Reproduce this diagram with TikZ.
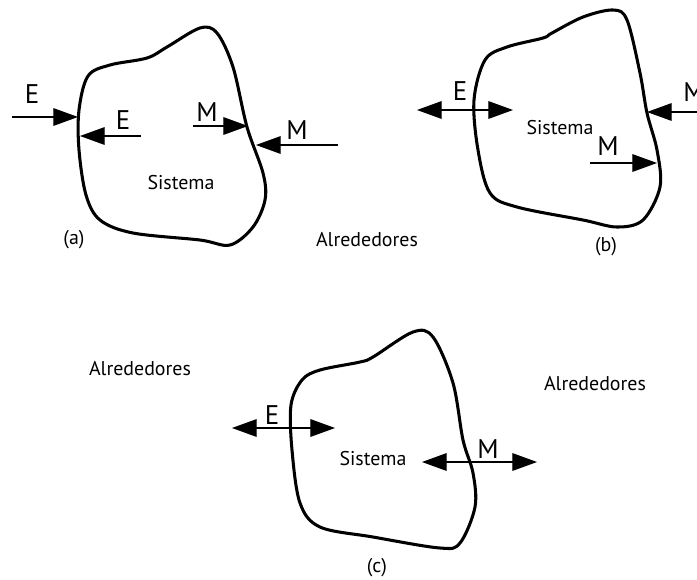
\documentclass[tikz,border=0pt]{standalone}
\usepackage{fontspec}
\setmainfont{PT Sans}
\usetikzlibrary{arrows.meta}

\tikzset{
  borde/.style={line width=2.6pt, line join=round},
  flecha/.style={line width=1pt, -{Triangle[length=21pt,width=15pt]}},
  dobleflecha/.style={line width=1pt, {Triangle[length=21pt,width=15pt]}-{Triangle[length=21pt,width=15pt]}},
  etiq/.style={font=\fontsize{23}{23}\selectfont, inner sep=0pt},
  texto/.style={font=\fontsize{17}{17}\selectfont, inner sep=0pt},
}

\begin{document}
\begin{tikzpicture}[x=0.03cm,y=-0.03cm]
		\useasboundingbox (0,0) rectangle (697,579);
		% sistema (a)
		\draw[borde] plot[smooth cycle, tension=0.55] coordinates {(88,76) (110,65) (147,58) (167,47) (200,28) (217,33) (233,67) (247,127) (263,173) (265,200) (253,227) (230,245) (200,240) (133,233) (100,220) (86,195) (79,150) (79,110)};
		\node[texto] (sisA) at (181,183) {Sistema};
		\node[texto] (etA) at (74,240) {(a)};
		\coordinate (aE1s) at (12,117);   \coordinate (aE1t) at (78,117);
		\coordinate (aE2s) at (141,136);  \coordinate (aE2t) at (80,136);
		\coordinate (aM1s) at (193,126);  \coordinate (aM1t) at (248,126);
		\coordinate (aM2s) at (338,145);  \coordinate (aM2t) at (256,145);
		\draw[flecha] (aE1s) -- (aE1t);
		\draw[flecha] (aE2s) -- (aE2t);
		\draw[flecha] (aM1s) -- (aM1t);
		\draw[flecha] (aM2s) -- (aM2t);
		\node[etiq] (aE1) at (32,94) {E};
		\node[etiq] (aE2) at (123,120) {E};
		\node[etiq] (aM1) at (207,112) {M};
		\node[etiq] (aM2) at (297,130) {M};
		% sistema (b)
		\draw[borde] plot[smooth cycle, tension=0.55] coordinates {(485,60) (507,47) (543,38) (552,33) (583,17) (613,10) (627,20) (640,73) (647,113) (657,150) (660,187) (643,220) (617,227) (583,220) (517,207) (490,193) (478,150) (474,100)};
		\node[texto] (sisB) at (560,128) {Sistema};
		\node[texto] (etB) at (606,247) {(b)};
		\coordinate (bEs) at (417,110);  \coordinate (bEt) at (513,110);
		\coordinate (bM1s) at (700,112); \coordinate (bM1t) at (647,112);
		\coordinate (bM2s) at (590,163); \coordinate (bM2t) at (657,163);
		\draw[dobleflecha] (bEs) -- (bEt);
		\draw[flecha] (bM1s) -- (bM1t);
		\draw[flecha] (bM2s) -- (bM2t);
		\node[etiq] (bE) at (460,91) {E};
		\node[etiq] (bM1) at (694,92) {M};
		\node[etiq] (bM2) at (608,146) {M};
		% sistema (c)
		\draw[borde] plot[smooth cycle, tension=0.55] coordinates {(302,380) (320,370) (360,362) (373,357) (413,332) (433,337) (453,383) (463,440) (473,473) (475,507) (460,543) (440,548) (373,537) (320,527) (300,503) (292,450) (291,405)};
		\node[texto] (sisC) at (373,459) {Sistema};
		\node[texto] (etC) at (377,568) {(c)};
		\coordinate (cEs) at (232,428);  \coordinate (cEt) at (335,428);
		\coordinate (cMs) at (422,462);  \coordinate (cMt) at (537,462);
		\draw[dobleflecha] (cEs) -- (cEt);
		\draw[dobleflecha] (cMs) -- (cMt);
		\node[etiq] (cE) at (272,415) {E};
		\node[etiq] (cM) at (488,449) {M};
		% alrededores
		\node[texto] (alr1) at (367,240) {Alrededores};
		\node[texto] (alr2) at (140,369) {Alrededores};
		\node[texto] (alr3) at (595,384) {Alrededores};
\end{tikzpicture}
\end{document}
